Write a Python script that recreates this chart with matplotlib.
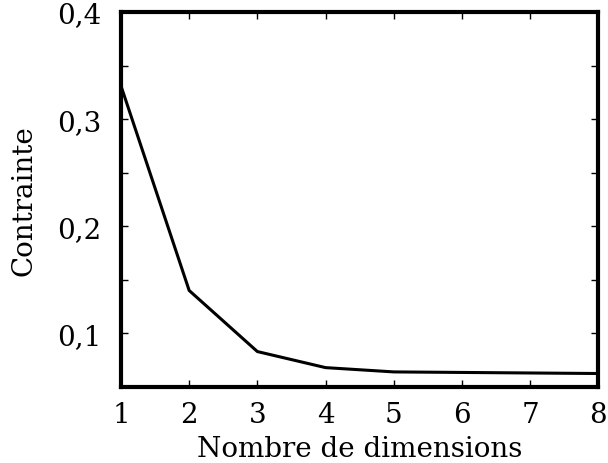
import numpy as np
import matplotlib.pyplot as plt
from matplotlib.ticker import MultipleLocator, FuncFormatter

# données
dimensions = [1, 2, 3, 4, 5, 6, 7, 8]
contrainte = [0.331, 0.140, 0.083, 0.068, 0.064, 0.0635, 0.063, 0.0625]

plt.rcParams['font.family'] = ['DejaVu Serif']

fig = plt.figure(figsize=(6.08, 4.64), dpi=100)
ax = fig.add_axes([0.199, 0.164, 0.785, 0.808])
ax.plot(dimensions, contrainte, color='black', linewidth=2.2)

ax.set_xlim(1, 8)
ax.set_ylim(0.05, 0.4)
ax.xaxis.set_major_locator(MultipleLocator(1))
ax.yaxis.set_major_locator(MultipleLocator(0.1))
ax.yaxis.set_minor_locator(MultipleLocator(0.05))
ax.yaxis.set_major_formatter(FuncFormatter(lambda v, p: ('%.1f' % v).replace('.', ',')))

ax.tick_params(which='both', direction='in', top=True, right=True,
               length=5, width=1, labelsize=20)
ax.tick_params(axis='x', pad=10)
ax.tick_params(axis='y', pad=14)
for s in ax.spines.values():
    s.set_linewidth(3)

ax.set_xlabel('Nombre de dimensions', fontsize=20, labelpad=5)
ax.set_ylabel('Contrainte', fontsize=20, labelpad=14)

fig.savefig('out.png', dpi=100)
